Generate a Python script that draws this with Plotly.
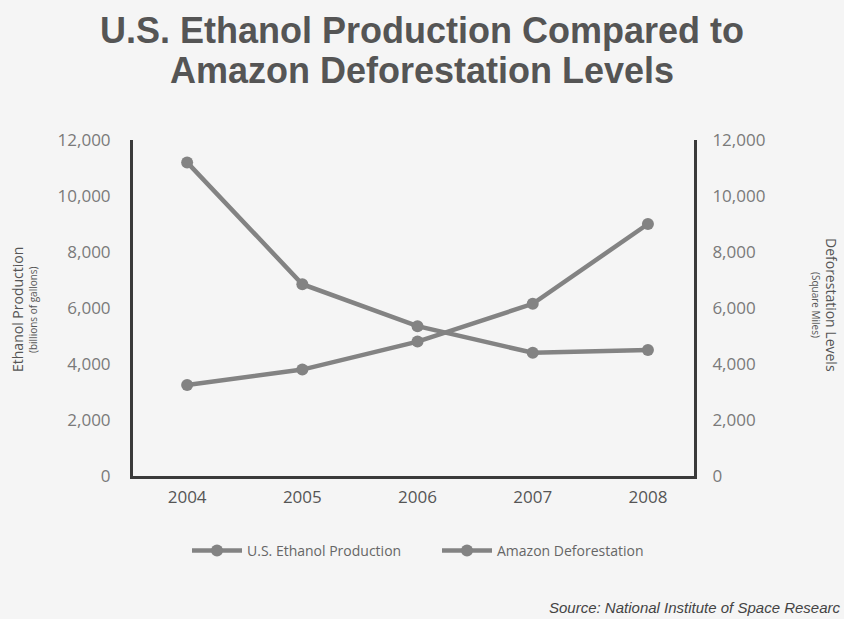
import plotly.graph_objects as go

years = [2004, 2005, 2006, 2007, 2008]
ethanol = [3250, 3800, 4800, 6150, 9000]
deforestation = [11200, 6850, 5350, 4400, 4500]
y_ticks = [0, 2000, 4000, 6000, 8000, 10000, 12000]
y_ticklabels = ["0", "2,000", "4,000", "6,000", "8,000", "10,000", "12,000"]
title_lines = ["U.S. Ethanol Production Compared to", "Amazon Deforestation Levels"]

line_color = "#838383"
axis_color = "#3a3a3a"
bg = "#f5f5f5"
font_family = "Open Sans, Lato, sans-serif"

L, R, T, B = 133, 694, 140, 476


def px(x):
    return (x - L) / (R - L)


def py(y):
    return (B - y) / (B - T)


fig = go.Figure()
fig.add_trace(go.Scatter(
    x=years, y=ethanol, name="U.S. Ethanol Production", mode="lines+markers",
    line=dict(color=line_color, width=4.5), marker=dict(size=12, color=line_color),
    yaxis="y"))
fig.add_trace(go.Scatter(
    x=years, y=deforestation, name="Amazon Deforestation", mode="lines+markers",
    line=dict(color=line_color, width=4.5), marker=dict(size=12, color=line_color),
    yaxis="y2"))

fig.update_layout(
    width=844, height=619,
    margin=dict(l=L, r=844 - R, t=T, b=619 - B),
    paper_bgcolor=bg, plot_bgcolor=bg,
    font=dict(family=font_family, color="#666666"),
    xaxis=dict(
        range=[2003.53, 2008.40], tickvals=years, ticktext=[str(y) for y in years],
        showgrid=False, zeroline=False, showline=True, linecolor=axis_color,
        linewidth=3, ticks="", ticklabelstandoff=4,
        tickfont=dict(size=17, color="#555555")),
    yaxis=dict(
        range=[0, 12000], tickvals=y_ticks, ticktext=y_ticklabels,
        showgrid=False, zeroline=False, showline=True, linecolor=axis_color,
        linewidth=3, ticks="", ticklabelstandoff=16,
        tickfont=dict(size=17, color="#7a7a7a")),
    yaxis2=dict(
        range=[0, 12000], tickvals=y_ticks, ticktext=y_ticklabels,
        overlaying="y", side="right",
        showgrid=False, zeroline=False, showline=True, linecolor=axis_color,
        linewidth=3, ticks="", ticklabelstandoff=12,
        tickfont=dict(size=17, color="#7a7a7a")),
    legend=dict(
        orientation="h", x=px(187), xanchor="left", y=py(551), yanchor="middle",
        font=dict(size=14, color="#666666"), bgcolor="rgba(0,0,0,0)",
        itemwidth=50, entrywidth=185, entrywidthmode="pixels"),
    showlegend=True,
)

for text, ty in zip(title_lines, [30, 70]):
    fig.add_annotation(
        text="<b>" + text + "</b>",
        x=px(422), y=py(ty), xref="paper", yref="paper", showarrow=False,
        xanchor="center", yanchor="middle",
        font=dict(family="Liberation Sans, Arial, sans-serif", size=36, color="#555555"))

annotations = [
    dict(text="Ethanol Production", x=17, y=310, textangle=-90,
         font=dict(size=14, color="#555555")),
    dict(text="(billions of gallons)", x=33, y=310, textangle=-90,
         font=dict(size=10, color="#555555")),
    dict(text="Deforestation Levels", x=832, y=305, textangle=90,
         font=dict(size=14, color="#555555")),
    dict(text="(Square Miles)", x=816, y=305, textangle=90,
         font=dict(size=10, color="#555555")),
]
for a in annotations:
    ax, ay = a.pop("x"), a.pop("y")
    fig.add_annotation(
        x=px(ax), y=py(ay), xref="paper", yref="paper", showarrow=False,
        xanchor="center", yanchor="middle", **a)

fig.add_annotation(
    text="<i>Source: National Institute of Space Researc</i>",
    x=px(842), y=py(607), xref="paper", yref="paper", showarrow=False,
    xanchor="right", yanchor="middle",
    font=dict(family="Liberation Sans, Arial, sans-serif", size=15, color="#444444"))

fig.write_html("out.html", config={"displayModeBar": False},
               post_script="document.body.style.margin='0';")
